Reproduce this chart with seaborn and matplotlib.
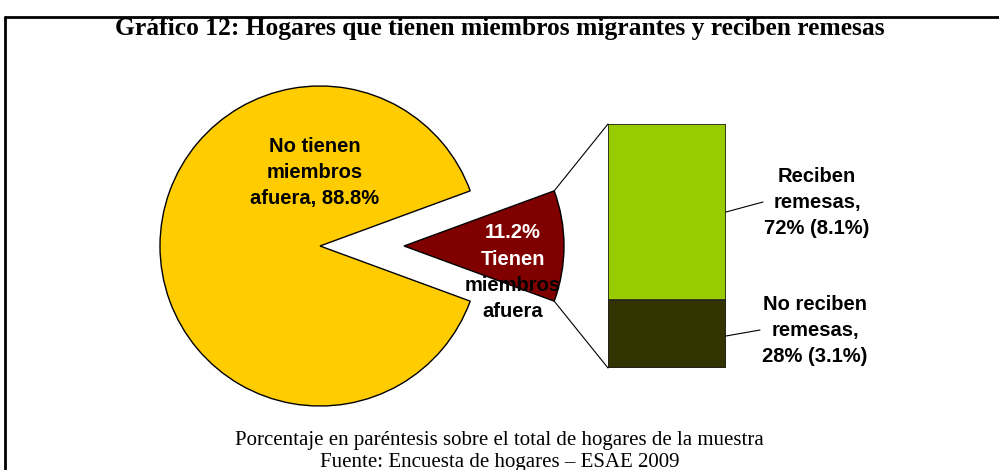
import numpy as np
import matplotlib
matplotlib.use("Agg")
import matplotlib.pyplot as plt
import seaborn as sns
from matplotlib.lines import Line2D
from matplotlib.patches import ConnectionPatch

sns.set_theme(style="white")
plt.rcParams['font.family'] = ['Liberation Sans', 'DejaVu Sans']
plt.rcParams['text.color'] = 'black'

# data
pie_labels = ["Tienen miembros afuera", "No tienen miembros afuera"]
pie_values = [11.2, 88.8]
bar_labels = ["No reciben remesas", "Reciben remesas"]
bar_values = [28, 72]
bar_total_share = [3.1, 8.1]

title = "Gráfico 12: Hogares que tienen miembros migrantes y reciben remesas"
note1 = "Porcentaje en paréntesis sobre el total de hogares de la muestra"
note2 = "Fuente: Encuesta de hogares \u2013 ESAE 2009"

W, H = 999, 470
fig = plt.figure(figsize=(W / 100, H / 100), dpi=100)
fig.patch.set_facecolor("white")

# pie axes in pixel coordinates (y up)
ax = fig.add_axes([0, 0, 1, 1])
ax.set_xlim(0, W)
ax.set_ylim(0, H)
ax.set_aspect("equal")
ax.axis("off")

cx, cy, r = 320, H - 246, 160
shift = 84
half = pie_values[0] / 100 * 360 / 2
wedges, _ = ax.pie(pie_values, startangle=-half, counterclock=True,
                   colors=["#800000", "#FFCC00"], explode=[shift, 0],
                   center=(cx, cy), radius=r, frame=True,
                   wedgeprops=dict(edgecolor="black", linewidth=1.0))
ax.set_xlim(0, W)
ax.set_ylim(0, H)
ax.axis("off")

# bar axes (stacked column for the exploded slice)
bx0, bx1, by0, by1 = 608, 726, 124, 368
bax = fig.add_axes([bx0 / W, (H - by1) / H, (bx1 - bx0) / W, (by1 - by0) / H])
cum = np.cumsum(bar_values)
sns.barplot(x=[0], y=[cum[-1]], color="#99CC00", width=1.0, ax=bax,
            edgecolor="#222222", linewidth=1.2, saturation=1)
sns.barplot(x=[0], y=[cum[0]], color="#333300", width=1.0, ax=bax,
            edgecolor="#222222", linewidth=1.2, saturation=1)
bax.set_xlim(-0.5, 0.5)
bax.set_ylim(0, 100)
bax.axis("off")

# connector lines from red wedge corners to bar corners
ex = cx + shift
for ang, by in [(half, 1.0), (-half, 0.0)]:
    px = ex + r * np.cos(np.radians(ang))
    py = cy + r * np.sin(np.radians(ang))
    con = ConnectionPatch(xyA=(px, py), coordsA=ax.transData,
                          xyB=(-0.5, by * 100), coordsB=bax.transData,
                          color="black", linewidth=0.8)
    fig.add_artist(con)

lab_kw = dict(ha="center", va="center", fontsize=14.5, fontweight="bold")


def block(x, y0, lines, step=26.3, colors=None):
    for i, t in enumerate(lines):
        c = colors[i] if colors else "black"
        ax.text(x, H - (y0 + i * step), t, color=c, **lab_kw)


# pie labels
block(315, 146, ["No tienen", "miembros", f"afuera, {pie_values[1]}%"])
block(513, 233, [f"{pie_values[0]}%", "Tienen", "miembros", "afuera"],
      colors=["white", "white", "black", "black"])

# bar labels with leader lines
def px2fig(x, y):
    return x / W, (H - y) / H

for (x0, y0, x1, y1) in [(726, 212, 763, 202), (726, 336, 760, 330)]:
    a, b = px2fig(x0, y0)
    c, d = px2fig(x1, y1)
    fig.add_artist(Line2D([a, c], [b, d], color="black", linewidth=0.8))

block(817, 176, ["Reciben", "remesas,", f"{bar_values[1]}% ({bar_total_share[1]}%)"])
block(815, 304, ["No reciben", "remesas,", f"{bar_values[0]}% ({bar_total_share[0]}%)"])

# title and notes
fig.text(0.5, 1 - 28 / H, title, ha="center", va="center", color="black",
         family="Liberation Serif", fontsize=18.4, fontweight="bold")
fig.text(0.5, 1 - 441 / H, note1, ha="center", va="center", color="black",
         family="Liberation Serif", fontsize=15)
fig.text(0.5, 1 - 462 / H, note2, ha="center", va="center", color="black",
         family="Liberation Serif", fontsize=15)

# frame border
fig.add_artist(Line2D([5 / W, 5 / W], [0, 1 - 17 / H], color="black", linewidth=2))
fig.add_artist(Line2D([5 / W, 1], [1 - 17 / H, 1 - 17 / H], color="black", linewidth=2))

fig.savefig("out.png", dpi=100)
